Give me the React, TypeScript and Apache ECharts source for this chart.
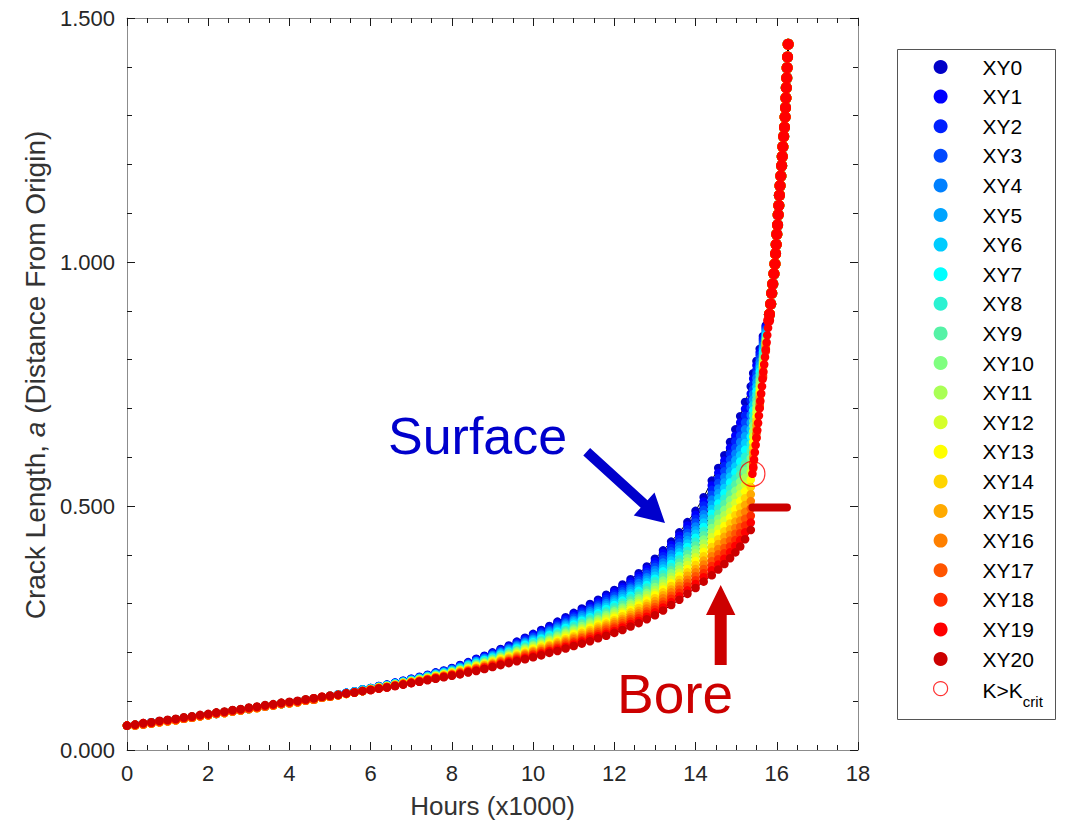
import React, { useEffect, useRef } from "react";
import * as echarts from "echarts";

const FONT = '"Liberation Sans", Arial, Helvetica, sans-serif';

// Time grid, hours x1000 (shared by every crack-front point)
const HOURS = [
  0, 0.2, 0.4, 0.6, 0.8, 1, 1.2, 1.4, 1.6, 1.8, 2, 2.2, 2.4, 2.6, 2.8, 3, 3.2, 3.4, 3.6, 3.8,
  4, 4.2, 4.4, 4.6, 4.8, 5, 5.2, 5.4, 5.6, 5.8,
  6, 6.2, 6.4, 6.6, 6.8, 7, 7.2, 7.4, 7.6, 7.8, 8, 8.2, 8.4, 8.6, 8.8, 9, 9.2, 9.4, 9.6, 9.8,
  10, 10.2, 10.4, 10.6, 10.8, 11, 11.2, 11.4, 11.6, 11.8, 12, 12.2, 12.4, 12.6, 12.8, 13, 13.2, 13.4, 13.6, 13.8,
  14, 14.2, 14.4, 14.56, 14.71, 14.85, 14.98, 15.1, 15.22, 15.36,
  15.42, 15.5, 15.58, 15.66, 15.73,
];

// Crack length a at each point along the front (XY0 = surface ... XY20 = bore)
const XY0 = [
  0.050, 0.052, 0.054, 0.057, 0.059, 0.061, 0.063, 0.065, 0.068, 0.070, 0.072, 0.074, 0.077, 0.079, 0.082, 0.084, 0.087, 0.089, 0.092, 0.094, 0.097, 0.100, 0.102, 0.105, 0.108, 0.111, 0.114, 0.117, 0.120, 0.124,
  0.127, 0.131, 0.134, 0.138, 0.142, 0.146, 0.150, 0.154, 0.159, 0.163, 0.168, 0.174, 0.180, 0.187, 0.193, 0.200, 0.207, 0.214, 0.222, 0.230, 0.238, 0.246, 0.254, 0.263, 0.272, 0.281, 0.290, 0.299, 0.308, 0.318, 0.328, 0.339, 0.350, 0.362, 0.376, 0.392, 0.409, 0.427, 0.446, 0.467, 0.490, 0.518, 0.552, 0.578, 0.604, 0.631, 0.657, 0.684, 0.713, 0.745,
  0.772, 0.797, 0.822, 0.848, 0.870,
];
const XY1 = [
  0.050, 0.052, 0.054, 0.057, 0.059, 0.061, 0.063, 0.065, 0.068, 0.070, 0.072, 0.074, 0.077, 0.079, 0.082, 0.084, 0.087, 0.089, 0.092, 0.094, 0.097, 0.100, 0.102, 0.105, 0.108, 0.111, 0.114, 0.117, 0.120, 0.124,
  0.127, 0.131, 0.134, 0.138, 0.142, 0.146, 0.149, 0.153, 0.158, 0.162, 0.167, 0.173, 0.179, 0.186, 0.192, 0.198, 0.205, 0.212, 0.220, 0.228, 0.236, 0.243, 0.251, 0.260, 0.269, 0.278, 0.286, 0.295, 0.304, 0.314, 0.324, 0.334, 0.345, 0.357, 0.371, 0.386, 0.403, 0.420, 0.439, 0.460, 0.482, 0.509, 0.542, 0.568, 0.593, 0.619, 0.644, 0.671, 0.699, 0.730,
  0.761, 0.788, 0.815, 0.843, 0.867,
];
const XY2 = [
  0.050, 0.052, 0.054, 0.057, 0.059, 0.061, 0.063, 0.065, 0.068, 0.070, 0.072, 0.074, 0.077, 0.079, 0.082, 0.084, 0.087, 0.089, 0.092, 0.094, 0.097, 0.100, 0.102, 0.105, 0.108, 0.111, 0.114, 0.117, 0.120, 0.124,
  0.127, 0.130, 0.133, 0.137, 0.141, 0.145, 0.149, 0.153, 0.158, 0.162, 0.166, 0.172, 0.178, 0.184, 0.190, 0.197, 0.204, 0.210, 0.218, 0.226, 0.233, 0.241, 0.248, 0.257, 0.266, 0.274, 0.283, 0.291, 0.300, 0.310, 0.319, 0.330, 0.340, 0.352, 0.365, 0.380, 0.397, 0.414, 0.432, 0.452, 0.474, 0.501, 0.533, 0.557, 0.582, 0.607, 0.632, 0.657, 0.685, 0.716,
  0.750, 0.779, 0.809, 0.839, 0.864,
];
const XY3 = [
  0.050, 0.052, 0.054, 0.057, 0.059, 0.061, 0.063, 0.065, 0.068, 0.070, 0.072, 0.074, 0.077, 0.079, 0.082, 0.084, 0.087, 0.089, 0.092, 0.094, 0.097, 0.100, 0.102, 0.105, 0.108, 0.111, 0.114, 0.117, 0.120, 0.124,
  0.126, 0.130, 0.133, 0.137, 0.141, 0.145, 0.148, 0.152, 0.157, 0.161, 0.166, 0.171, 0.177, 0.183, 0.189, 0.195, 0.202, 0.209, 0.216, 0.223, 0.231, 0.238, 0.246, 0.254, 0.262, 0.271, 0.279, 0.288, 0.296, 0.305, 0.315, 0.325, 0.335, 0.347, 0.360, 0.375, 0.391, 0.407, 0.425, 0.445, 0.466, 0.492, 0.523, 0.547, 0.571, 0.595, 0.619, 0.644, 0.671, 0.701,
  0.739, 0.771, 0.802, 0.834, 0.861,
];
const XY4 = [
  0.050, 0.052, 0.054, 0.057, 0.059, 0.061, 0.063, 0.065, 0.068, 0.070, 0.072, 0.074, 0.077, 0.079, 0.082, 0.084, 0.087, 0.089, 0.092, 0.094, 0.097, 0.100, 0.102, 0.105, 0.108, 0.111, 0.114, 0.117, 0.120, 0.124,
  0.126, 0.130, 0.133, 0.137, 0.140, 0.144, 0.148, 0.152, 0.156, 0.160, 0.165, 0.170, 0.176, 0.182, 0.188, 0.194, 0.200, 0.207, 0.214, 0.221, 0.228, 0.236, 0.243, 0.251, 0.259, 0.267, 0.276, 0.284, 0.292, 0.301, 0.310, 0.320, 0.331, 0.342, 0.354, 0.369, 0.384, 0.401, 0.418, 0.438, 0.458, 0.483, 0.513, 0.536, 0.559, 0.583, 0.607, 0.631, 0.657, 0.686,
  0.729, 0.762, 0.795, 0.829, 0.858,
];
const XY5 = [
  0.050, 0.052, 0.054, 0.057, 0.059, 0.061, 0.063, 0.065, 0.068, 0.070, 0.072, 0.074, 0.077, 0.079, 0.082, 0.084, 0.087, 0.089, 0.092, 0.094, 0.097, 0.100, 0.102, 0.105, 0.108, 0.111, 0.114, 0.117, 0.120, 0.124,
  0.126, 0.130, 0.132, 0.136, 0.140, 0.144, 0.147, 0.151, 0.156, 0.159, 0.164, 0.169, 0.175, 0.181, 0.186, 0.192, 0.199, 0.205, 0.212, 0.219, 0.226, 0.233, 0.240, 0.248, 0.256, 0.264, 0.272, 0.280, 0.288, 0.297, 0.306, 0.316, 0.326, 0.336, 0.349, 0.363, 0.378, 0.394, 0.411, 0.430, 0.450, 0.475, 0.503, 0.526, 0.548, 0.571, 0.594, 0.617, 0.643, 0.671,
  0.718, 0.753, 0.788, 0.824, 0.855,
];
const XY6 = [
  0.050, 0.052, 0.054, 0.057, 0.059, 0.061, 0.063, 0.065, 0.068, 0.070, 0.072, 0.074, 0.077, 0.079, 0.082, 0.084, 0.087, 0.089, 0.092, 0.094, 0.097, 0.100, 0.102, 0.105, 0.108, 0.111, 0.114, 0.117, 0.120, 0.124,
  0.126, 0.129, 0.132, 0.136, 0.140, 0.143, 0.147, 0.151, 0.155, 0.159, 0.163, 0.168, 0.174, 0.179, 0.185, 0.191, 0.197, 0.203, 0.210, 0.217, 0.224, 0.230, 0.237, 0.245, 0.253, 0.261, 0.268, 0.276, 0.284, 0.293, 0.302, 0.311, 0.321, 0.331, 0.344, 0.357, 0.372, 0.388, 0.405, 0.423, 0.443, 0.466, 0.494, 0.516, 0.537, 0.560, 0.581, 0.604, 0.629, 0.657,
  0.707, 0.744, 0.782, 0.820, 0.852,
];
const XY7 = [
  0.050, 0.052, 0.054, 0.056, 0.059, 0.061, 0.063, 0.066, 0.068, 0.071, 0.073, 0.076, 0.078, 0.081, 0.083, 0.086, 0.088, 0.091, 0.093, 0.096, 0.098, 0.100, 0.103, 0.105, 0.108, 0.111, 0.113, 0.116, 0.118, 0.121,
  0.126, 0.129, 0.132, 0.136, 0.139, 0.143, 0.146, 0.150, 0.154, 0.158, 0.162, 0.167, 0.173, 0.178, 0.184, 0.189, 0.195, 0.201, 0.208, 0.215, 0.221, 0.228, 0.235, 0.242, 0.250, 0.257, 0.265, 0.272, 0.280, 0.289, 0.297, 0.306, 0.316, 0.326, 0.338, 0.351, 0.366, 0.381, 0.398, 0.416, 0.435, 0.457, 0.484, 0.505, 0.526, 0.548, 0.569, 0.591, 0.615, 0.642,
  0.696, 0.735, 0.775, 0.815, 0.849,
];
const XY8 = [
  0.050, 0.052, 0.054, 0.056, 0.059, 0.061, 0.063, 0.066, 0.068, 0.071, 0.073, 0.076, 0.078, 0.081, 0.083, 0.086, 0.088, 0.091, 0.093, 0.096, 0.098, 0.100, 0.103, 0.105, 0.108, 0.111, 0.113, 0.116, 0.118, 0.121,
  0.125, 0.129, 0.132, 0.135, 0.139, 0.142, 0.146, 0.150, 0.154, 0.157, 0.162, 0.166, 0.172, 0.177, 0.182, 0.188, 0.194, 0.200, 0.206, 0.212, 0.219, 0.225, 0.232, 0.239, 0.246, 0.254, 0.261, 0.269, 0.276, 0.284, 0.293, 0.302, 0.311, 0.321, 0.333, 0.346, 0.360, 0.375, 0.391, 0.408, 0.427, 0.449, 0.474, 0.495, 0.515, 0.536, 0.556, 0.577, 0.601, 0.627,
  0.685, 0.727, 0.768, 0.810, 0.846,
];
const XY9 = [
  0.050, 0.052, 0.054, 0.056, 0.059, 0.061, 0.063, 0.066, 0.068, 0.071, 0.073, 0.076, 0.078, 0.081, 0.083, 0.086, 0.088, 0.091, 0.093, 0.096, 0.098, 0.100, 0.103, 0.105, 0.108, 0.111, 0.113, 0.116, 0.118, 0.121,
  0.125, 0.129, 0.131, 0.135, 0.138, 0.142, 0.145, 0.149, 0.153, 0.157, 0.161, 0.165, 0.171, 0.176, 0.181, 0.186, 0.192, 0.198, 0.204, 0.210, 0.216, 0.223, 0.229, 0.236, 0.243, 0.250, 0.258, 0.265, 0.272, 0.280, 0.288, 0.297, 0.306, 0.316, 0.327, 0.340, 0.354, 0.368, 0.384, 0.401, 0.419, 0.440, 0.465, 0.484, 0.504, 0.524, 0.544, 0.564, 0.587, 0.613,
  0.674, 0.718, 0.761, 0.805, 0.843,
];
const XY10 = [
  0.050, 0.052, 0.054, 0.056, 0.059, 0.061, 0.063, 0.066, 0.068, 0.071, 0.073, 0.076, 0.078, 0.081, 0.083, 0.086, 0.088, 0.091, 0.093, 0.096, 0.098, 0.100, 0.103, 0.105, 0.108, 0.111, 0.113, 0.116, 0.118, 0.121,
  0.125, 0.128, 0.131, 0.134, 0.138, 0.141, 0.145, 0.148, 0.152, 0.156, 0.160, 0.164, 0.169, 0.174, 0.179, 0.185, 0.190, 0.196, 0.202, 0.208, 0.214, 0.220, 0.226, 0.233, 0.240, 0.247, 0.254, 0.261, 0.268, 0.276, 0.284, 0.292, 0.301, 0.311, 0.322, 0.334, 0.347, 0.362, 0.377, 0.393, 0.411, 0.431, 0.455, 0.474, 0.492, 0.512, 0.531, 0.550, 0.572, 0.598,
  0.664, 0.709, 0.755, 0.801, 0.841,
];
const XY11 = [
  0.050, 0.052, 0.054, 0.056, 0.059, 0.061, 0.063, 0.066, 0.068, 0.071, 0.073, 0.076, 0.078, 0.081, 0.083, 0.086, 0.088, 0.091, 0.093, 0.096, 0.098, 0.100, 0.103, 0.105, 0.108, 0.111, 0.113, 0.116, 0.118, 0.121,
  0.125, 0.128, 0.131, 0.134, 0.138, 0.141, 0.144, 0.148, 0.152, 0.155, 0.159, 0.164, 0.168, 0.173, 0.178, 0.183, 0.189, 0.194, 0.200, 0.206, 0.212, 0.217, 0.224, 0.230, 0.237, 0.244, 0.250, 0.257, 0.265, 0.272, 0.280, 0.288, 0.297, 0.306, 0.317, 0.328, 0.341, 0.355, 0.370, 0.386, 0.403, 0.423, 0.445, 0.464, 0.481, 0.500, 0.518, 0.537, 0.558, 0.583,
  0.653, 0.700, 0.748, 0.796, 0.838,
];
const XY12 = [
  0.050, 0.050, 0.052, 0.054, 0.057, 0.059, 0.061, 0.064, 0.066, 0.069, 0.071, 0.074, 0.076, 0.079, 0.081, 0.084, 0.086, 0.089, 0.091, 0.094, 0.096, 0.098, 0.101, 0.103, 0.107, 0.109, 0.112, 0.115, 0.118, 0.121,
  0.125, 0.128, 0.130, 0.134, 0.137, 0.141, 0.144, 0.147, 0.151, 0.155, 0.158, 0.163, 0.167, 0.172, 0.177, 0.182, 0.187, 0.192, 0.198, 0.204, 0.209, 0.215, 0.221, 0.227, 0.234, 0.240, 0.247, 0.253, 0.261, 0.268, 0.275, 0.283, 0.292, 0.301, 0.311, 0.322, 0.335, 0.349, 0.363, 0.379, 0.395, 0.414, 0.436, 0.453, 0.470, 0.488, 0.506, 0.524, 0.544, 0.569,
  0.642, 0.692, 0.741, 0.791, 0.835,
];
const XY13 = [
  0.050, 0.050, 0.052, 0.054, 0.057, 0.059, 0.061, 0.064, 0.066, 0.069, 0.071, 0.074, 0.076, 0.079, 0.081, 0.084, 0.086, 0.089, 0.091, 0.094, 0.096, 0.098, 0.101, 0.103, 0.107, 0.109, 0.112, 0.115, 0.118, 0.121,
  0.124, 0.128, 0.130, 0.133, 0.137, 0.140, 0.143, 0.147, 0.151, 0.154, 0.158, 0.162, 0.166, 0.171, 0.175, 0.180, 0.186, 0.191, 0.196, 0.201, 0.207, 0.212, 0.218, 0.224, 0.230, 0.237, 0.243, 0.250, 0.257, 0.263, 0.271, 0.279, 0.287, 0.296, 0.306, 0.317, 0.329, 0.342, 0.356, 0.371, 0.387, 0.406, 0.426, 0.443, 0.459, 0.476, 0.493, 0.510, 0.530, 0.554,
  0.631, 0.683, 0.734, 0.786, 0.832,
];
const XY14 = [
  0.050, 0.050, 0.052, 0.054, 0.057, 0.059, 0.061, 0.064, 0.066, 0.069, 0.071, 0.074, 0.076, 0.079, 0.081, 0.084, 0.086, 0.089, 0.091, 0.094, 0.096, 0.098, 0.101, 0.103, 0.107, 0.109, 0.112, 0.115, 0.118, 0.121,
  0.124, 0.127, 0.130, 0.133, 0.136, 0.140, 0.143, 0.146, 0.150, 0.153, 0.157, 0.161, 0.165, 0.169, 0.174, 0.179, 0.184, 0.189, 0.194, 0.199, 0.204, 0.210, 0.215, 0.221, 0.227, 0.233, 0.240, 0.246, 0.253, 0.259, 0.266, 0.274, 0.282, 0.291, 0.300, 0.311, 0.323, 0.336, 0.349, 0.364, 0.379, 0.397, 0.416, 0.432, 0.448, 0.464, 0.481, 0.497, 0.516, 0.539,
  0.620, 0.674, 0.728, 0.782, 0.829,
];
const XY15 = [
  0.050, 0.050, 0.052, 0.054, 0.057, 0.059, 0.061, 0.064, 0.066, 0.069, 0.071, 0.074, 0.076, 0.079, 0.081, 0.084, 0.086, 0.089, 0.091, 0.094, 0.096, 0.098, 0.101, 0.103, 0.107, 0.109, 0.112, 0.115, 0.118, 0.121,
  0.124, 0.127, 0.129, 0.133, 0.136, 0.139, 0.142, 0.146, 0.149, 0.152, 0.156, 0.160, 0.164, 0.168, 0.173, 0.177, 0.182, 0.187, 0.192, 0.197, 0.202, 0.207, 0.213, 0.218, 0.224, 0.230, 0.236, 0.242, 0.249, 0.255, 0.262, 0.269, 0.277, 0.285, 0.295, 0.305, 0.317, 0.329, 0.342, 0.357, 0.371, 0.388, 0.406, 0.422, 0.437, 0.452, 0.468, 0.484, 0.502, 0.524,
  0.609, 0.665, 0.721, 0.777, 0.826,
];
const XY16 = [
  0.050, 0.050, 0.052, 0.054, 0.057, 0.059, 0.061, 0.064, 0.066, 0.069, 0.071, 0.074, 0.076, 0.079, 0.081, 0.084, 0.086, 0.089, 0.091, 0.094, 0.096, 0.098, 0.101, 0.103, 0.107, 0.109, 0.112, 0.115, 0.118, 0.121,
  0.124, 0.127, 0.129, 0.132, 0.136, 0.139, 0.142, 0.145, 0.149, 0.152, 0.155, 0.159, 0.163, 0.167, 0.171, 0.176, 0.181, 0.185, 0.190, 0.195, 0.200, 0.204, 0.210, 0.215, 0.221, 0.227, 0.232, 0.238, 0.245, 0.251, 0.258, 0.265, 0.272, 0.280, 0.290, 0.299, 0.311, 0.323, 0.336, 0.349, 0.364, 0.380, 0.397, 0.412, 0.426, 0.441, 0.455, 0.470, 0.488, 0.510,
  0.599, 0.656, 0.714, 0.772, 0.823,
];
const XY17 = [
  0.050, 0.050, 0.052, 0.054, 0.057, 0.059, 0.061, 0.064, 0.066, 0.069, 0.071, 0.074, 0.076, 0.079, 0.081, 0.084, 0.086, 0.089, 0.091, 0.094, 0.096, 0.098, 0.101, 0.103, 0.107, 0.109, 0.112, 0.115, 0.118, 0.121,
  0.124, 0.127, 0.129, 0.132, 0.135, 0.138, 0.141, 0.145, 0.148, 0.151, 0.154, 0.158, 0.162, 0.166, 0.170, 0.174, 0.179, 0.183, 0.188, 0.193, 0.197, 0.202, 0.207, 0.212, 0.218, 0.223, 0.229, 0.234, 0.241, 0.247, 0.253, 0.260, 0.268, 0.275, 0.284, 0.293, 0.304, 0.316, 0.329, 0.342, 0.356, 0.371, 0.387, 0.401, 0.414, 0.429, 0.443, 0.457, 0.474, 0.495,
  0.588, 0.648, 0.707, 0.767, 0.820,
];
const XY18 = [
  0.050, 0.052, 0.055, 0.056, 0.059, 0.061, 0.063, 0.066, 0.068, 0.071, 0.073, 0.076, 0.078, 0.081, 0.083, 0.086, 0.088, 0.091, 0.093, 0.096, 0.098, 0.100, 0.103, 0.106, 0.109, 0.111, 0.113, 0.116, 0.118, 0.121,
  0.123, 0.126, 0.129, 0.132, 0.135, 0.138, 0.141, 0.144, 0.147, 0.150, 0.154, 0.157, 0.161, 0.164, 0.169, 0.173, 0.177, 0.182, 0.186, 0.190, 0.195, 0.199, 0.204, 0.209, 0.214, 0.220, 0.225, 0.231, 0.237, 0.242, 0.249, 0.255, 0.263, 0.270, 0.279, 0.288, 0.298, 0.310, 0.322, 0.335, 0.348, 0.362, 0.377, 0.391, 0.403, 0.417, 0.430, 0.444, 0.460, 0.480,
  0.577, 0.639, 0.701, 0.763, 0.817,
];
const XY19 = [
  0.050, 0.052, 0.055, 0.056, 0.059, 0.061, 0.063, 0.066, 0.068, 0.071, 0.073, 0.076, 0.078, 0.081, 0.083, 0.086, 0.088, 0.091, 0.093, 0.096, 0.098, 0.100, 0.103, 0.106, 0.109, 0.111, 0.113, 0.116, 0.118, 0.121,
  0.123, 0.126, 0.128, 0.131, 0.134, 0.137, 0.140, 0.144, 0.147, 0.150, 0.153, 0.156, 0.160, 0.163, 0.167, 0.171, 0.176, 0.180, 0.184, 0.188, 0.192, 0.197, 0.202, 0.206, 0.211, 0.216, 0.222, 0.227, 0.233, 0.238, 0.244, 0.251, 0.258, 0.265, 0.273, 0.282, 0.292, 0.303, 0.315, 0.327, 0.340, 0.354, 0.368, 0.380, 0.392, 0.405, 0.418, 0.430, 0.446, 0.466,
];
const XY20 = [
  0.050, 0.052, 0.055, 0.057, 0.060, 0.062, 0.064, 0.067, 0.069, 0.072, 0.074, 0.077, 0.079, 0.082, 0.084, 0.087, 0.089, 0.092, 0.094, 0.097, 0.099, 0.101, 0.104, 0.106, 0.109, 0.111, 0.113, 0.116, 0.118, 0.121,
  0.123, 0.126, 0.128, 0.131, 0.134, 0.137, 0.140, 0.143, 0.146, 0.149, 0.152, 0.155, 0.159, 0.162, 0.166, 0.170, 0.174, 0.178, 0.182, 0.186, 0.190, 0.194, 0.199, 0.203, 0.208, 0.213, 0.218, 0.223, 0.229, 0.234, 0.240, 0.246, 0.253, 0.260, 0.268, 0.276, 0.286, 0.297, 0.308, 0.320, 0.332, 0.345, 0.358, 0.370, 0.381, 0.393, 0.405, 0.417, 0.432, 0.451,
];

// XY19 after K > Kcrit: rapid growth up to where the front collapses
const XY19_TAIL_HOURS = [15.40, 15.42, 15.44, 15.46, 15.48, 15.50, 15.52, 15.54, 15.56, 15.575, 15.595, 15.615, 15.635, 15.65, 15.67, 15.69, 15.71, 15.73, 15.75, 15.765, 15.785, 15.80];
const XY19_TAIL_A = [0.566, 0.580, 0.595, 0.610, 0.625, 0.640, 0.655, 0.670, 0.685, 0.700, 0.715, 0.730, 0.745, 0.760, 0.775, 0.790, 0.805, 0.820, 0.835, 0.850, 0.865, 0.880];

// Common final growth of XY0..XY19 once the front has merged
const TAIL_HOURS = [15.82, 15.85, 15.875, 15.9, 15.93, 15.955, 15.97, 15.985, 16.0, 16.02, 16.035, 16.05, 16.065, 16.08, 16.1, 16.12, 16.135, 16.15, 16.17, 16.19, 16.205, 16.215, 16.225, 16.235, 16.245, 16.255, 16.265, 16.28];
const TAIL_A = [0.893, 0.914, 0.936, 0.955, 0.976, 0.996, 1.017, 1.036, 1.057, 1.076, 1.097, 1.116, 1.137, 1.156, 1.176, 1.197, 1.216, 1.236, 1.257, 1.276, 1.297, 1.316, 1.336, 1.357, 1.377, 1.398, 1.420, 1.446];

const KCRIT_HOURS = [15.40];
const KCRIT_A = [0.566];

const BORE_MARK_HOURS = [15.40, 16.25];
const BORE_MARK_A = [0.497, 0.497];

const FRONT = [XY0, XY1, XY2, XY3, XY4, XY5, XY6, XY7, XY8, XY9, XY10, XY11, XY12, XY13, XY14, XY15, XY16, XY17, XY18, XY19, XY20];
const SERIES_NAMES = ["XY0", "XY1", "XY2", "XY3", "XY4", "XY5", "XY6", "XY7", "XY8", "XY9", "XY10", "XY11", "XY12", "XY13", "XY14", "XY15", "XY16", "XY17", "XY18", "XY19", "XY20"];
const KCRIT_NAME = "K>Kcrit";
const COLORS = ["#0000c8", "#0000ff", "#0020ff", "#0048ff", "#0080ff", "#00a4ff", "#00ccff", "#00ffff", "#2bf2d2", "#55f2a6", "#80ff80", "#aaff55", "#d5ff2b", "#ffff00", "#ffd500", "#ffaa00", "#ff8000", "#ff5500", "#ff2b00", "#ff0000", "#cc0000"];

const X_MIN = 0, X_MAX = 18, X_STEP = 2;
const Y_MIN = 0, Y_MAX = 1.5, Y_STEP = 0.5;

function buildFrontSeries() {
  return FRONT.map((vals, i) => {
    const pts: number[][] = vals.map((a, k) => [HOURS[k], a]);
    if (i === 19) XY19_TAIL_HOURS.forEach((h, j) => pts.push([h, XY19_TAIL_A[j]]));
    if (i < 20) TAIL_HOURS.forEach((h, j) => pts.push([h, TAIL_A[j]]));
    return {
      name: SERIES_NAMES[i],
      type: "line",
      data: pts,
      symbol: "circle",
      // markers on the steep final stretch are drawn a little larger
      symbolSize: (v: number[]) => (v[1] >= 0.88 ? 11 : 8.6),
      showSymbol: true,
      showAllSymbol: true,
      itemStyle: { color: COLORS[i], borderWidth: 0 },
      lineStyle: { color: "#000", width: 1 },
      emphasis: { disabled: true },
      silent: true,
      z: 2,
    };
  });
}

export default function App() {
  const ref = useRef<HTMLDivElement>(null);

  useEffect(() => {
    if (!ref.current) return;
    const chart = echarts.init(ref.current, undefined, { renderer: "svg" });

    const frame = { color: "#8c8c8c", width: 1 };
    const tick = { color: "#1a1a1a", width: 1 };
    const xBase = {
      type: "value",
      min: X_MIN,
      max: X_MAX,
      interval: X_STEP,
      axisLine: { show: true, onZero: false, lineStyle: frame },
      axisTick: { show: true, inside: true, length: 8, lineStyle: tick },
      minorTick: { show: true, splitNumber: 4, length: 5, lineStyle: tick },
      splitLine: { show: false },
      minorSplitLine: { show: false },
    };
    const yBase = {
      type: "value",
      min: Y_MIN,
      max: Y_MAX,
      interval: Y_STEP,
      axisLine: { show: true, onZero: false, lineStyle: frame },
      axisTick: { show: true, inside: true, length: 8, lineStyle: tick },
      minorTick: { show: true, splitNumber: 5, length: 5, lineStyle: tick },
      splitLine: { show: false },
      minorSplitLine: { show: false },
    };

    const legendData: any[] = SERIES_NAMES.map((n, i) => ({
      name: n,
      icon: "circle",
      itemStyle: { color: COLORS[i], borderWidth: 0 },
    }));
    legendData.push({
      name: KCRIT_NAME,
      icon: "circle",
      itemStyle: { color: "#ffffff", borderColor: "#ff0000", borderWidth: 1.2 },
    });

    const series: any[] = buildFrontSeries();
    series.push({
      name: "bore-mark",
      type: "line",
      data: BORE_MARK_HOURS.map((h, j) => [h, BORE_MARK_A[j]]),
      symbol: "none",
      lineStyle: { color: "#cc0000", width: 8, cap: "round" },
      silent: true,
      z: 3,
    });
    series.push({
      name: KCRIT_NAME,
      type: "scatter",
      data: KCRIT_HOURS.map((h, j) => [h, KCRIT_A[j]]),
      symbol: "circle",
      symbolSize: 25,
      itemStyle: { color: "rgba(0,0,0,0)", borderColor: "#ff0000", borderWidth: 1.2 },
      silent: true,
      z: 4,
    });

    const option: any = {
      animation: false,
      backgroundColor: "#ffffff",
      textStyle: { fontFamily: FONT },
      grid: { left: 127, right: 210, top: 18, bottom: 78, containLabel: false },
      xAxis: [
        {
          ...xBase,
          position: "bottom",
          name: "Hours (x1000)",
          nameLocation: "middle",
          nameGap: 43,
          nameTextStyle: { fontSize: 26, color: "#333333", fontFamily: FONT },
          axisLabel: { show: true, fontSize: 22, color: "#262626", margin: 12, fontFamily: FONT },
        },
        { ...xBase, position: "top", axisLabel: { show: false } },
      ],
      yAxis: [
        {
          ...yBase,
          position: "left",
          name: "Crack Length, {i|a} (Distance From Origin)",
          nameLocation: "middle",
          nameRotate: 90,
          nameGap: 76,
          nameTextStyle: {
            fontSize: 28,
            color: "#333333",
            fontFamily: FONT,
            padding: [0, 0, 0, 18],
            rich: { i: { fontStyle: "italic", fontSize: 28, color: "#333333", fontFamily: FONT } },
          },
          axisLabel: {
            show: true,
            fontSize: 22,
            color: "#262626",
            margin: 12,
            fontFamily: FONT,
            formatter: (v: number) => v.toFixed(3),
          },
        },
        { ...yBase, position: "right", axisLabel: { show: false } },
      ],
      legend: {
        orient: "vertical",
        left: 933,
        top: 56,
        padding: 0,
        itemWidth: 74,
        itemHeight: 14,
        itemGap: 7.6,
        selectedMode: false,
        data: legendData,
        formatter: (name: string) => (name === KCRIT_NAME ? "{m|K>K}{s|crit}" : name),
        textStyle: {
          fontSize: 21,
          lineHeight: 22,
          color: "#000000",
          fontFamily: FONT,
          rich: {
            m: { fontSize: 21, lineHeight: 22, color: "#000000", fontFamily: FONT, verticalAlign: "top", padding: [2, 0, 0, 0] },
            s: { fontSize: 15, lineHeight: 16, color: "#000000", fontFamily: FONT, verticalAlign: "top", padding: [16, 0, 0, 0] },
          },
        },
      },
      graphic: [
        {
          type: "rect",
          shape: { x: 897.5, y: 49.5, width: 158, height: 670 },
          style: { fill: "none", stroke: "#555555", lineWidth: 1 },
          silent: true,
        },
        {
          type: "text",
          x: 388,
          y: 436,
          style: { text: "Surface", fontSize: 52, fontFamily: FONT, fill: "#0000cc", verticalAlign: "middle", align: "left" },
          silent: true,
          z: 10,
        },
        {
          type: "text",
          x: 617,
          y: 694,
          style: { text: "Bore", fontSize: 55, fontFamily: FONT, fill: "#cc0000", verticalAlign: "middle", align: "left" },
          silent: true,
          z: 10,
        },
        {
          type: "polygon",
          shape: {
            points: [
              [590.1, 448.0], [647.5, 500.3], [654.5, 492.5], [665, 523],
              [633.7, 515.5], [640.7, 507.7], [583.3, 455.4],
            ],
          },
          style: { fill: "#0000cc" },
          silent: true,
          z: 10,
        },
        {
          type: "polygon",
          shape: {
            points: [
              [714.7, 665], [714.7, 615], [706, 615], [720.7, 585],
              [735.4, 615], [726.7, 615], [726.7, 665],
            ],
          },
          style: { fill: "#cc0000" },
          silent: true,
          z: 10,
        },
      ],
      series,
    };

    chart.setOption(option);
    return () => chart.dispose();
  }, []);

  return (
    <div
      ref={ref}
      style={{ position: "fixed", left: 0, top: 0, width: 1068, height: 828, background: "#ffffff" }}
    />
  );
}
